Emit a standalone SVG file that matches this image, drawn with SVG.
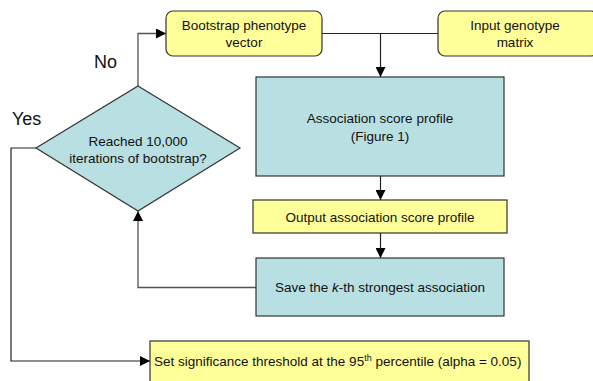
<svg xmlns="http://www.w3.org/2000/svg" width="593" height="381" viewBox="0 0 593 381">
<style>
.y{fill:#ffff99;stroke:#333;stroke-width:1.2}
.b{fill:#b8dfe2;stroke:#333;stroke-width:1.2}
.t{font-family:"Liberation Sans",Arial,sans-serif;font-size:13.5px;fill:#111;text-anchor:middle}
.l{font-family:"Liberation Sans",Arial,sans-serif;font-size:18px;fill:#111}
.c{fill:none;stroke:#555;stroke-width:1.3}
.k{fill:none;stroke:#222;stroke-width:1.2}
</style>
<defs>
<marker id="a" viewBox="0 0 10 10" refX="10" refY="5" markerWidth="10" markerHeight="10" markerUnits="userSpaceOnUse" orient="auto">
<path d="M0,0 L10,5 L0,10 z" fill="#000"/>
</marker>
</defs>
<rect width="593" height="381" fill="#fff"/>
<g id="connectors">
<path class="k" d="M322,33.5 H438"/>
<path class="k" d="M380.5,33.5 V77" marker-end="url(#a)"/>
<path class="k" d="M380.5,176 V200" marker-end="url(#a)"/>
<path class="k" d="M380.5,233 V258" marker-end="url(#a)"/>
<path class="c" d="M256,287.5 H138 V211" marker-end="url(#a)"/>
<path class="c" d="M138,86 V33.5 H166" marker-end="url(#a)"/>
<path class="k" d="M36,148 H11 V361 H150" marker-end="url(#a)"/>
</g>
<g id="bootstrap">
<rect class="y" x="166" y="11" width="156" height="45" rx="7"/>
<text class="t" x="244" y="29.5">Bootstrap phenotype</text>
<text class="t" x="244" y="46.5">vector</text>
</g>
<g id="genotype">
<rect class="y" x="438" y="11" width="160" height="45" rx="7"/>
<text class="t" x="515" y="29.5">Input genotype</text>
<text class="t" x="515" y="46.5">matrix</text>
</g>
<g id="assoc">
<rect class="b" x="256" y="77" width="248" height="99"/>
<text class="t" x="380" y="123">Association score profile</text>
<text class="t" x="380" y="141">(Figure 1)</text>
</g>
<g id="output">
<rect class="y" x="253" y="200" width="254" height="33"/>
<text class="t" x="380" y="221.5">Output association score profile</text>
</g>
<g id="save">
<rect class="b" x="256" y="258" width="248" height="58"/>
<text class="t" x="380" y="292">Save the <tspan font-style="italic">k</tspan>-th strongest association</text>
</g>
<g id="decision">
<polygon class="b" points="138,86 240,148 138,211 36,148"/>
<text class="t" x="138" y="146">Reached 10,000</text>
<text class="t" x="138" y="163">iterations of bootstrap?</text>
</g>
<g id="threshold">
<rect class="y" x="150" y="341" width="379" height="45"/>
<text class="t" x="154" y="366" text-anchor="start" style="text-anchor:start">Set significance threshold at the 95<tspan font-size="9" dy="-5">th</tspan><tspan dy="5"> percentile (alpha = 0.05)</tspan></text>
</g>
<g id="labels">
<text class="l" x="94" y="68">No</text>
<text class="l" x="12" y="125">Yes</text>
</g>
</svg>
